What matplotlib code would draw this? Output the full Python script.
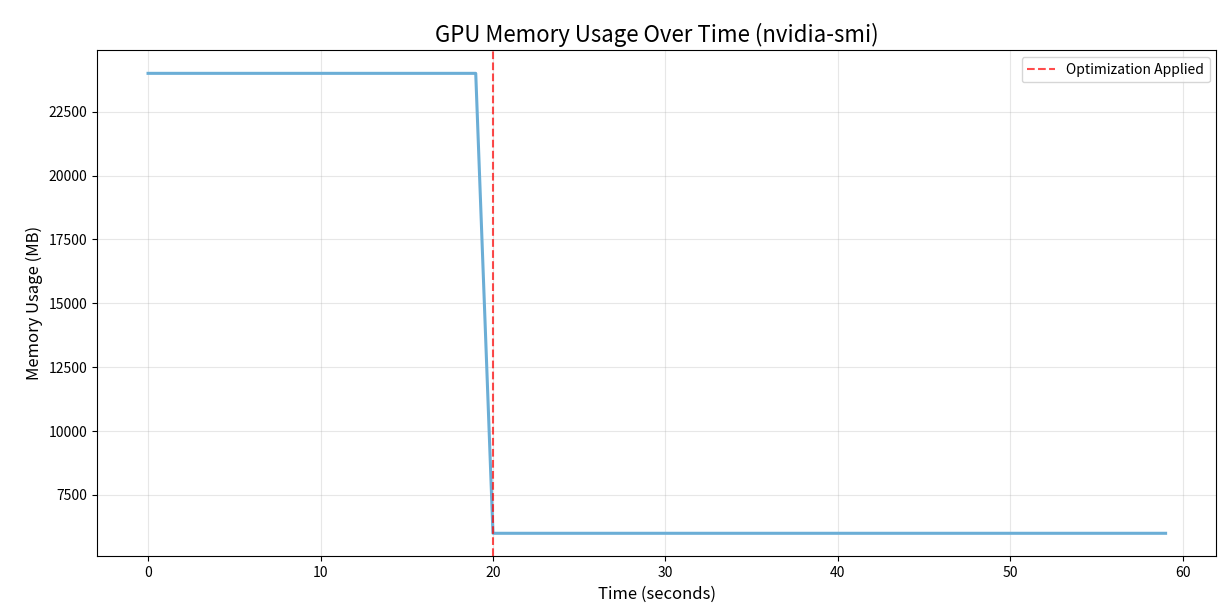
import matplotlib
matplotlib.use("Agg")
import matplotlib.pyplot as plt
import numpy as np

plt.rcParams['font.family'] = ['Noto Sans CJK JP', 'DejaVu Sans']

# memory readings, one per second
time_s = list(range(60))
memory_mb = [24000] * 20 + [6000] * 40
opt_time = 20

fig = plt.figure(figsize=(12.3, 6.14), dpi=100)
ax = fig.add_subplot(111)
ax.plot(time_s, memory_mb, color='#6baed6', linewidth=2.2)
ax.axvline(x=opt_time, color='red', linestyle='--', alpha=0.7, linewidth=1.5,
           label='Optimization Applied')

ax.set_title('GPU Memory Usage Over Time (nvidia-smi)', fontsize=16)
ax.set_xlabel('Time (seconds)', fontsize=12)
ax.set_ylabel('Memory Usage (MB)', fontsize=12)
ax.grid(True, alpha=0.3)
ax.legend(loc='upper right')

fig.subplots_adjust(left=0.079, right=0.989, top=0.918, bottom=0.094)
fig.savefig('out.png', dpi=100)
